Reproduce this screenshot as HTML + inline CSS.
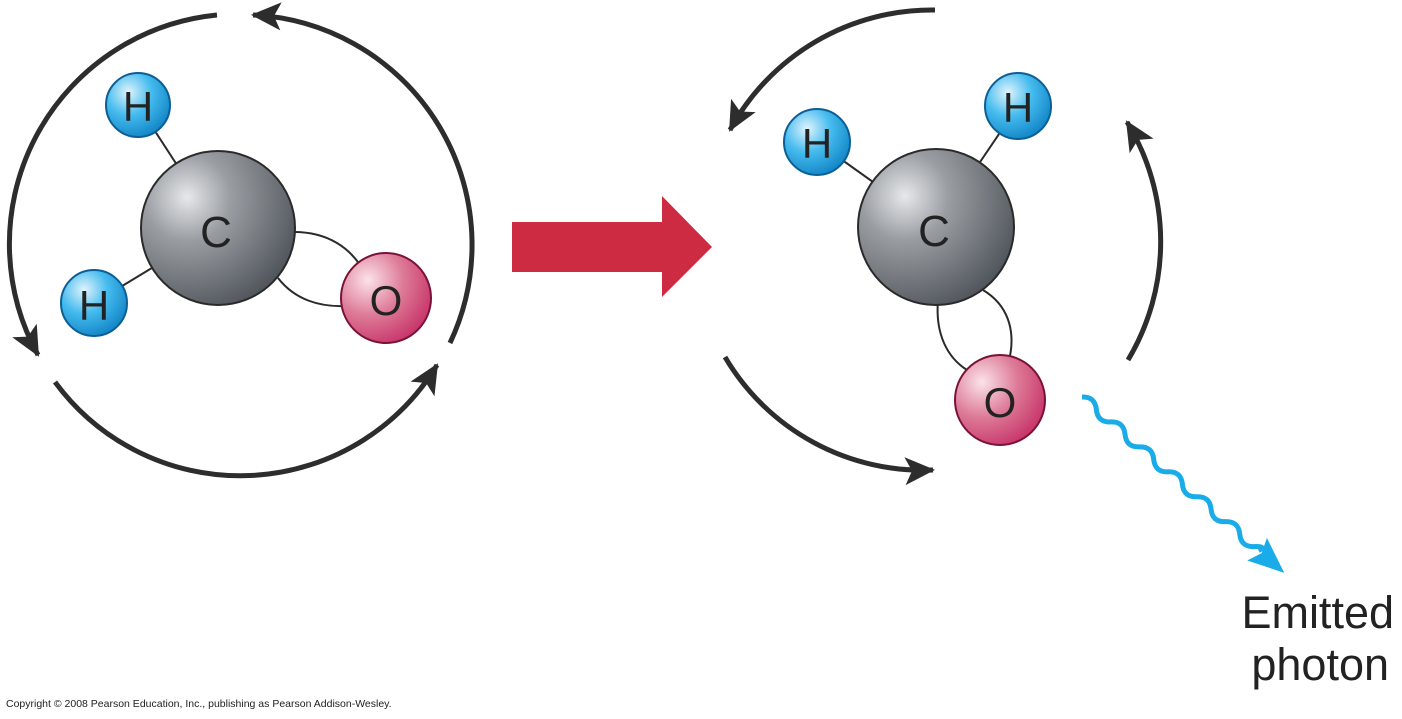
<!DOCTYPE html>
<html><head><meta charset="utf-8"><style>
html,body{margin:0;padding:0;background:#fff;}
svg{display:block;}
</style></head><body>
<svg width="1402" height="719" viewBox="0 0 1402 719" xmlns="http://www.w3.org/2000/svg">
<defs>
<marker id="ah" markerUnits="userSpaceOnUse" markerWidth="40" markerHeight="40" refX="28" refY="14" orient="auto">
<path d="M0,0 L30,14 L0,28 L7,14 Z" fill="#2d2d2d"/>
</marker>
<radialGradient id="gC" cx="0.3" cy="0.3" r="0.8">
<stop offset="0" stop-color="#e6e8ea"/><stop offset="0.35" stop-color="#9a9ea3"/><stop offset="1" stop-color="#4d5258"/>
</radialGradient>
<radialGradient id="gH" cx="0.35" cy="0.3" r="0.8">
<stop offset="0" stop-color="#e0f4fc"/><stop offset="0.45" stop-color="#45bbee"/><stop offset="1" stop-color="#0a7dc0"/>
</radialGradient>
<radialGradient id="gO" cx="0.3" cy="0.3" r="0.85">
<stop offset="0" stop-color="#fbe3ea"/><stop offset="0.45" stop-color="#de7d99"/><stop offset="1" stop-color="#c32660"/>
</radialGradient>
</defs>
<g fill="none" stroke="#2d2d2d" stroke-width="5">
<path d="M217,15 A230,230 0 0 0 38,355" marker-end="url(#ah)"/>
<path d="M55,382 A230,230 0 0 0 437,365" marker-end="url(#ah)"/>
<path d="M450,343 A230,230 0 0 0 253,15" marker-end="url(#ah)"/>
<path d="M935,10 A230,230 0 0 0 730,130" marker-end="url(#ah)"/>
<path d="M725,357 A230,230 0 0 0 933,470" marker-end="url(#ah)"/>
<path d="M1128,360 A230,230 0 0 0 1127,122" marker-end="url(#ah)"/>
</g>
<path d="M512,222 H662 V196 L712,247 L662,297 V272 H512 Z" fill="#cc2b41"/>
<g stroke="#2a2a2a" stroke-width="2" fill="none">
<line x1="138" y1="105" x2="218" y2="228"/>
<line x1="94" y1="303" x2="218" y2="228"/>
<path d="M294,232 C330,232 350,250 360,265"/>
<path d="M278,278 C295,300 320,307 345,306"/>
<line x1="817" y1="142" x2="936" y2="227"/>
<line x1="1018" y1="106" x2="936" y2="227"/>
<path d="M938,300 C935,335 948,358 967,370"/>
<path d="M983,290 C1008,305 1015,330 1010,356"/>
</g>
<g stroke="#2a2a2a" stroke-width="2">
<circle cx="218" cy="228" r="77" fill="url(#gC)"/>
<circle cx="138" cy="105" r="32" fill="url(#gH)" stroke="#0b5f95"/>
<circle cx="94" cy="303" r="33" fill="url(#gH)" stroke="#0b5f95"/>
<circle cx="386" cy="298" r="45" fill="url(#gO)" stroke="#7a1238"/>
<circle cx="936" cy="227" r="78" fill="url(#gC)"/>
<circle cx="817" cy="142" r="33" fill="url(#gH)" stroke="#0b5f95"/>
<circle cx="1018" cy="106" r="33" fill="url(#gH)" stroke="#0b5f95"/>
<circle cx="1000" cy="400" r="45" fill="url(#gO)" stroke="#7a1238"/>
</g>
<g font-family="Liberation Sans, sans-serif" fill="#222" text-anchor="middle">
<text x="216" y="247" font-size="44">C</text>
<text x="138" y="121" font-size="42">H</text>
<text x="94" y="320" font-size="42">H</text>
<text x="386" y="315" font-size="42">O</text>
<text x="934" y="246" font-size="44">C</text>
<text x="817" y="158" font-size="42">H</text>
<text x="1018" y="122" font-size="42">H</text>
<text x="1000" y="417" font-size="42">O</text>
</g>
<g transform="translate(1082,397) rotate(41)">
<path d="M0,0 q9.5,-9 19,0 t19,0 t19,0 t19,0 t19,0 t19,0 t19,0 t19,0 t19,0 t19,0 t19,0 t19,0 t6,0" fill="none" stroke="#1aace8" stroke-width="5"/>
<path d="M232,-15 L268,0 L232,15 L238,0 Z" fill="#1aace8"/>
</g>
<g font-family="Liberation Sans, sans-serif" fill="#222" text-anchor="end" font-size="45">
<text x="1394" y="628">Emitted</text>
<text x="1389" y="680">photon</text>
</g>
<text x="6" y="707" font-family="Liberation Sans, sans-serif" font-size="10.5" fill="#222">Copyright © 2008 Pearson Education, Inc., publishing as Pearson Addison-Wesley.</text>
</svg>
</body></html>
